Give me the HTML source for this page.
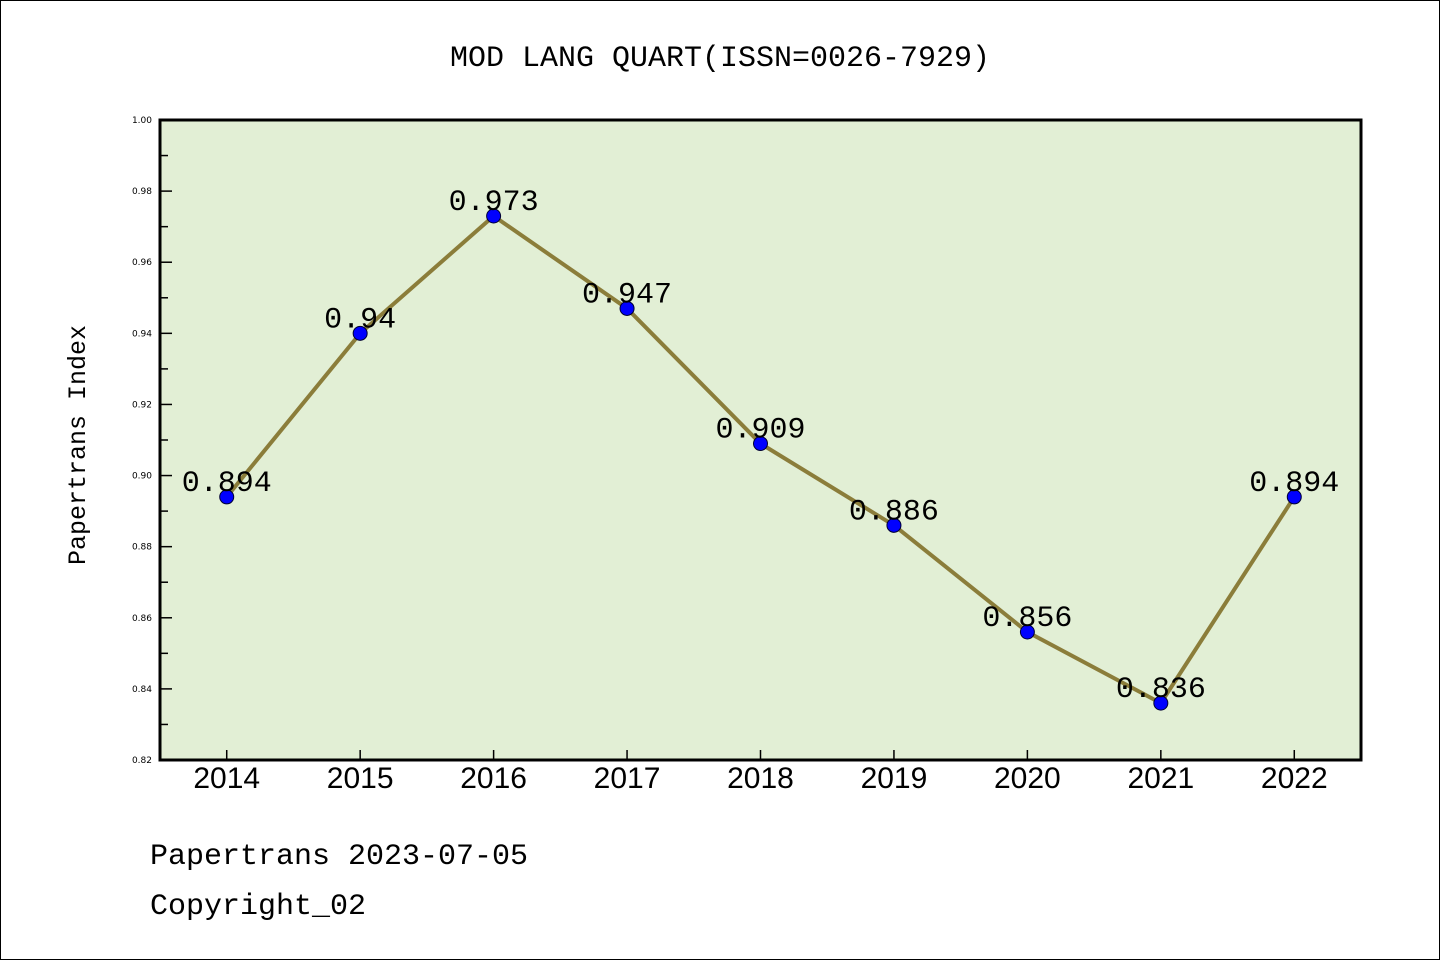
<!DOCTYPE html>
<html><head><meta charset="utf-8"><style>
html,body{margin:0;padding:0;background:#fff}
svg{display:block}
</style></head><body>
<svg width="1440" height="960" viewBox="0 0 1440 960" xmlns="http://www.w3.org/2000/svg">
<rect x="0.5" y="0.5" width="1439" height="959" fill="#fff" stroke="#000" stroke-width="1"/>
<text x="720" y="66" text-anchor="middle" font-family="Liberation Mono, monospace" font-size="30">MOD LANG QUART(ISSN=0026-7929)</text>
<rect x="160" y="120" width="1201" height="640" fill="#e2efd5"/>
<g id="yaxis"></g>
<g id="xaxis"></g>
<g id="series"></g>
<rect x="160" y="120" width="1201" height="640" fill="none" stroke="#000" stroke-width="3"/>
<text transform="translate(85,445) rotate(-90)" text-anchor="middle" font-family="Liberation Mono, monospace" font-size="25">Papertrans Index</text>
<text x="150" y="864" font-family="Liberation Mono, monospace" font-size="30">Papertrans 2023-07-05</text>
<text x="150" y="914" font-family="Liberation Mono, monospace" font-size="30">Copyright_02</text>
</svg>
<script>
const years = ["2014","2015","2016","2017","2018","2019","2020","2021","2022"];
const values = [0.894,0.94,0.973,0.947,0.909,0.886,0.856,0.836,0.894];
const valueLabels = ["0.894","0.94","0.973","0.947","0.909","0.886","0.856","0.836","0.894"];
const yTicks = [0.82,0.84,0.86,0.88,0.90,0.92,0.94,0.96,0.98,1.00];
const yTickLabels = ["0.82","0.84","0.86","0.88","0.90","0.92","0.94","0.96","0.98","1.00"];

const NS="http://www.w3.org/2000/svg";
const L=160,R=1361,T=120,B=760,yMin=0.82,yMax=1.0;
function yS(v){return B-(v-yMin)/(yMax-yMin)*(B-T);}
function xS(i){return L+(i+0.5)*(R-L)/years.length;}
function mk(tag,attrs,parent){const e=document.createElementNS(NS,tag);for(const k in attrs)e.setAttribute(k,attrs[k]);parent.appendChild(e);return e;}
const ya=document.getElementById('yaxis'),xa=document.getElementById('xaxis'),se=document.getElementById('series');
yTicks.forEach((v,i)=>{
  const y=yS(v);
  const t=mk('line',{x1:L,x2:L+12,y1:y,y2:y,stroke:'#000','stroke-width':1.5},ya);
  
  
  const lb=mk('text',{x:L-8,y:y+3,'text-anchor':'end','font-family':'DejaVu Sans, sans-serif','font-size':9},ya);
  lb.textContent=yTickLabels[i];
  
  
  if(i<yTicks.length-1){
    const ym=yS(v+(yTicks[i+1]-v)/2);
    const m=mk('line',{x1:L,x2:L+8,y1:ym,y2:ym,stroke:'#000','stroke-width':1.5},ya);
    
    
  }
});
years.forEach((yr,i)=>{
  const x=xS(i);
  const t=mk('line',{x1:x,x2:x,y1:B,y2:B-10,stroke:'#000','stroke-width':1.5},xa);
  
  
  const lb=mk('text',{x:x,y:788,'text-anchor':'middle','font-family':'Liberation Sans, sans-serif','font-size':30},xa);
  lb.textContent=yr;
  
  
});
const pts=values.map((v,i)=>xS(i)+','+yS(v)).join(' ');
const line=mk('polyline',{points:pts,fill:'none',stroke:'#8b7d3a','stroke-width':4,'stroke-linejoin':'round'},se);


values.forEach((v,i)=>{
  const c=mk('circle',{cx:xS(i),cy:yS(v),r:7,fill:'#0000ff',stroke:'#000033','stroke-width':1},se);
  
  
});
values.forEach((v,i)=>{
  const t=mk('text',{x:xS(i),y:yS(v)-6,'text-anchor':'middle','font-family':'Liberation Mono, monospace','font-size':30},se);
  t.textContent=valueLabels[i];
  
  
});
</script>
</body></html>
